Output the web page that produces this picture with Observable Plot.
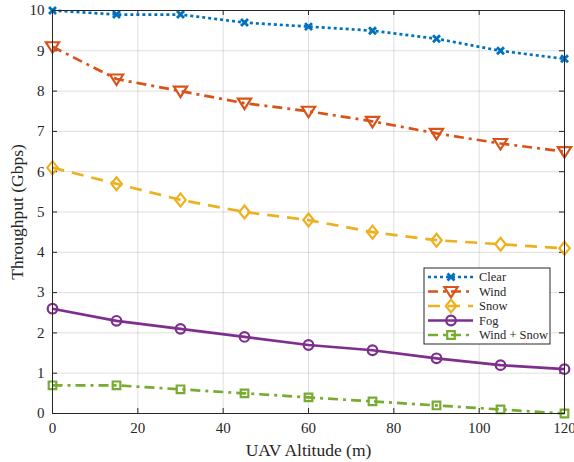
<!DOCTYPE html>
<html>
<head>
<meta charset="utf-8">
<script src="https://cdn.jsdelivr.net/npm/d3@7"></script>
<script src="https://cdn.jsdelivr.net/npm/@observablehq/plot@0.6"></script>
<style>
  html, body { margin: 0; padding: 0; background: white; }
</style>
</head>
<body>
<div id="chart"></div>
<script>
const altitude = [0, 15, 30, 45, 60, 75, 90, 105, 120];
const clearVals = [10, 9.9, 9.9, 9.7, 9.6, 9.5, 9.3, 9.0, 8.8];
const windVals = [9.1, 8.3, 8.0, 7.7, 7.5, 7.25, 6.95, 6.7, 6.5];
const snowVals = [6.1, 5.7, 5.3, 5.0, 4.8, 4.5, 4.3, 4.2, 4.1];
const fogVals = [2.6, 2.3, 2.1, 1.9, 1.7, 1.57, 1.37, 1.2, 1.1];
const windSnowVals = [0.7, 0.7, 0.6, 0.5, 0.4, 0.3, 0.2, 0.1, 0.0];
const seriesNames = ["Clear", "Wind", "Snow", "Fog", "Wind + Snow"];
const xTicks = [0, 20, 40, 60, 80, 100, 120];
const yTicks = [0, 1, 2, 3, 4, 5, 6, 7, 8, 9, 10];

const seriesValues = [clearVals, windVals, snowVals, fogVals, windSnowVals];
const colors = ["#0072BD", "#D95319", "#EDB120", "#7E2F8E", "#77AC30"];
const dashes = ["3,3", "10,5,3,5", "12,8", null, "10,5,3,5"];

// custom symbols (size = r^2 * PI)
const rad = size => Math.sqrt(size / Math.PI);
const symX = { draw(c, size) { const r = rad(size); c.moveTo(-r, -r); c.lineTo(r, r); c.moveTo(r, -r); c.lineTo(-r, r); } };
const symTriDown = { draw(c, size) { const r = rad(size); c.moveTo(0, r); c.lineTo(-r * 1.1, -r * 0.75); c.lineTo(r * 1.1, -r * 0.75); c.closePath(); } };
const symDiamond = { draw(c, size) { const r = rad(size); c.moveTo(0, -r * 1.25); c.lineTo(r, 0); c.lineTo(0, r * 1.25); c.lineTo(-r, 0); c.closePath(); } };
const symCircle = { draw(c, size) { const r = rad(size); c.moveTo(r, 0); c.arc(0, 0, r, 0, 2 * Math.PI); c.closePath(); } };
const symSquare = { draw(c, size) { const r = rad(size); c.rect(-r, -r, 2 * r, 2 * r); } };
const symbols = [symX, symTriDown, symDiamond, symCircle, symSquare];
const radii = [3.5, 6, 5.2, 4.8, 3.8];
const symWidths = [2.8, 2.2, 2.2, 2.2, 2.2];

const table = seriesNames.map((name, i) => altitude.map((a, j) => ({ series: name, alt: a, v: seriesValues[i][j] })));

const font = "'Liberation Serif', 'Times New Roman', 'DejaVu Serif', serif";
const ink = "#262626";
const W = 574, H = 462, mL = 52, mR = 10, mT = 10, mB = 49;
const plotW = W - mL - mR, plotH = H - mT - mB, tickLen = 5;

const marks = [
  Plot.gridX(xTicks, { stroke: "#000", strokeOpacity: 0.13, strokeWidth: 1 }),
  Plot.gridY(yTicks, { stroke: "#000", strokeOpacity: 0.13, strokeWidth: 1 }),
  Plot.axisX(xTicks, { tickSize: 0, tickPadding: 9, fontSize: 15, label: null }),
  Plot.axisY(yTicks, { tickSize: 0, tickPadding: 8, fontSize: 15, label: null }),
  Plot.axisX({ label: "UAV Altitude (m)", tickSize: 0, ticks: [], labelAnchor: "center", labelOffset: 42, labelArrow: "none", fontSize: 17.5 }),
  Plot.axisY({ label: "Throughput (Gbps)", tickSize: 0, ticks: [], labelAnchor: "center", labelOffset: 42, labelArrow: "none", fontSize: 17.5 }),
  // inward tick marks on all four sides
  Plot.tickX(xTicks, { x: d => d, stroke: ink, insetTop: plotH - tickLen }),
  Plot.tickX(xTicks, { x: d => d, stroke: ink, insetBottom: plotH - tickLen }),
  Plot.tickY(yTicks, { y: d => d, stroke: ink, insetRight: plotW - tickLen }),
  Plot.tickY(yTicks, { y: d => d, stroke: ink, insetLeft: plotW - tickLen }),
];
table.forEach((d, i) => {
  marks.push(Plot.line(d, { x: "alt", y: "v", stroke: colors[i], strokeWidth: 2.7, strokeDasharray: dashes[i], strokeLinecap: "butt" }));
  marks.push(Plot.dot(d, { x: "alt", y: "v", stroke: colors[i], strokeWidth: symWidths[i], fill: "none", symbol: symbols[i], r: radii[i] }));
});
marks.push(Plot.frame({ stroke: ink, strokeWidth: 1 }));

const plot = Plot.plot({
  width: W,
  height: H,
  marginLeft: mL,
  marginRight: mR,
  marginTop: mT,
  marginBottom: mB,
  style: { fontFamily: font, fontSize: "15px", color: ink, background: "white" },
  x: { domain: [0, 120] },
  y: { domain: [0, 10] },
  marks
});
document.getElementById("chart").appendChild(plot);

// legend inside the axes (MATLAB style box)
const svg = d3.select(plot);
const lg = svg.append("g").style("font-family", font).attr("font-size", 12.5).attr("fill", ink).attr("text-anchor", "start");
const lx = 424, ly = 268, lw = 126, lh = 76, rowH = 14.5;
lg.append("rect").attr("x", lx).attr("y", ly).attr("width", lw).attr("height", lh)
  .attr("fill", "white").attr("stroke", ink).attr("stroke-width", 1);
seriesNames.forEach((name, i) => {
  const cy = ly + 9 + i * rowH;
  lg.append("line").attr("x1", lx + 4).attr("x2", lx + 49).attr("y1", cy).attr("y2", cy)
    .attr("stroke", colors[i]).attr("stroke-width", 2.7).attr("stroke-dasharray", dashes[i]);
  lg.append("path").attr("transform", `translate(${lx + 27},${cy})`)
    .attr("d", d3.symbol(symbols[i], radii[i] * radii[i] * Math.PI)())
    .attr("fill", "none").attr("stroke", colors[i]).attr("stroke-width", symWidths[i]);
  lg.append("text").attr("x", lx + 55).attr("y", cy).attr("dy", "0.35em").text(name);
});
</script>
</body>
</html>
